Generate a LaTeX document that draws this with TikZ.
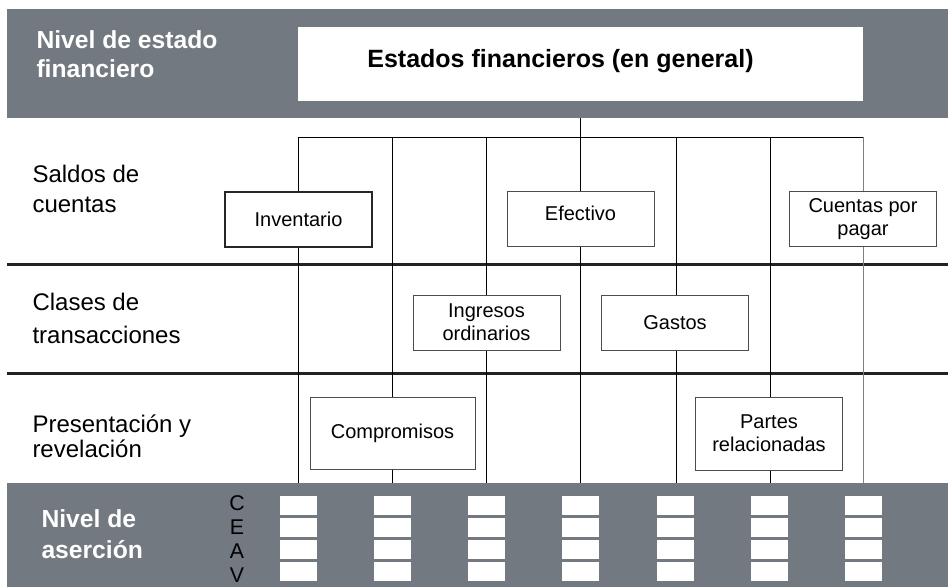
\documentclass[tikz,border=0pt]{standalone}
\usepackage{fontspec}
\setmainfont{Liberation Sans}
\definecolor{bandgray}{RGB}{115,121,128}
\definecolor{linegray}{RGB}{34,34,34}

\begin{document}
\begin{tikzpicture}[x=0.75pt,y=-0.75pt,line width=0.75pt,
  cuenta/.style={draw=black!70,fill=white,inner sep=0pt,align=center,
    minimum width=110.25pt,minimum height=41.25pt,font=\fontsize{15}{17.5}\selectfont},
  fila/.style={anchor=west,align=left,inner sep=0pt,font=\fontsize{18}{22.5}\selectfont},
  nivel/.style={anchor=west,align=left,inner sep=0pt,text=white,
    font=\fontsize{18.5}{21.75}\selectfont\bfseries},
  letras/.style={inner sep=0pt,align=center,font=\fontsize{16}{18}\selectfont}]
\useasboundingbox (0,0) rectangle (948,587);
\fill [bandgray] (7,9) rectangle (948,118);
\fill [bandgray] (7,483) rectangle (948,587);
\node [nivel] (nivelest) at (36,53.7) {Nivel de estado\\financiero};
\node [fill=white,inner sep=0pt,minimum width=423.75pt,minimum height=55.5pt,text depth=9pt,
  font=\fontsize{18.75}{20}\selectfont\bfseries] (titulo) at (580.5,64)
  {Estados financieros (en general)\hspace*{30pt}};
\node [nivel] (nivelas) at (41,533.7) {Nivel de\\[1.5pt]aserción};
\node [fila] (saldos) at (32,189) {Saldos de\\cuentas};
\node [fila] (clases) at (32,318) {Clases de\\[2.25pt]transacciones};
\node [fila] (present) at (32,436) {Presentación y\\[-3.75pt]revelación};
\draw [linegray,line width=2.25pt] (7,264.5) -- (948,264.5);
\draw [linegray,line width=2.25pt] (7,373) -- (948,373);
\coordinate (tallo) at (580,118);
\foreach \x/\n in {298/1,392/2,486/3,580/4,676/5,770/6,863/7} {
  \coordinate (top\n) at (\x,137);
  \coordinate (pie\n) at (\x,483);
}
\draw (tallo) -- (top4);
\draw (top1) -- (top7);
\foreach \n in {1,...,6} \draw (top\n) -- (pie\n);
\draw [gray] (top7) -- (pie7);
\node [cuenta,draw=black!85,line width=1.5pt] (inventario) at (298.5,219) {Inventario};
\node [cuenta,text depth=9pt] (efectivo) at (580.5,219) {Efectivo};
\node [cuenta] (cuentas) at (863,219) {Cuentas por\\pagar};
\node [cuenta] (ingresos) at (486.5,322.5) {Ingresos\\ordinarios};
\node [cuenta] (gastos) at (675,322.5) {Gastos};
\node [cuenta,minimum width=123.75pt,minimum height=54pt] (compromisos) at (392.5,433) {Compromisos};
\node [cuenta,minimum height=54.75pt] (partes) at (769,433.5) {Partes\\relacionadas};
\node [letras] (ceav) at (237,539) {C\\E\\A\\V};
\foreach \y in {505.5,527.5,549.5,571.5}
  \foreach \x in {298.5,392.5,486.5,580.5,675.5,769.5,863.5}
    \fill [white] (\x-18.5,\y-9.5) rectangle (\x+18.5,\y+9.5);
\end{tikzpicture}
\end{document}
